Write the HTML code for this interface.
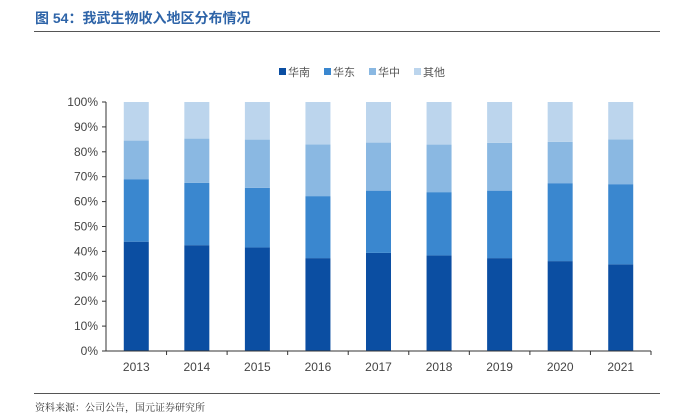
<!DOCTYPE html>
<html><head><meta charset="utf-8"><style>
body{margin:0;width:676px;height:411px;background:#fff;font-family:"Liberation Sans","Noto Sans CJK SC",sans-serif;overflow:hidden;position:relative}
.t{position:absolute;left:35px;top:8px;font-size:14px;font-weight:bold;color:#2e64a8}
.r{position:absolute;left:34px;width:626px;height:1px;background:#555}
.s{position:absolute;left:35px;top:399px;font-size:10px;color:#333;font-family:"Noto Serif CJK SC",serif}
</style></head><body>
<div class="t">图 54：我武生物收入地区分布情况</div>
<div class="r" style="top:31px"></div>
<div class="r" style="top:393px"></div>
<div class="s">资料来源：公司公告，国元证券研究所</div>
<svg id="c" width="676" height="411" style="position:absolute;left:0;top:0"></svg>
<script>
const years=["2013","2014","2015","2016","2017","2018","2019","2020","2021"];
const south=[43.9,42.5,41.6,37.3,39.4,38.4,37.3,36.1,34.8];
const east=[25.1,25.0,23.9,24.9,25.0,25.4,27.1,31.3,32.2];
const central=[15.5,17.8,19.4,20.8,19.3,19.1,19.2,16.6,18.0];
const other=[15.5,14.7,15.1,17.0,16.3,17.1,16.4,16.0,15.0];
const seriesNames=["华南","华东","华中","其他"];
const yTicks=[0,10,20,30,40,50,60,70,80,90,100];
const colors=["#0b4ea2","#3a87cf","#8ab8e2","#bcd5ed"];
const NS="http://www.w3.org/2000/svg",svg=document.getElementById('c');
const x0=106,x1=651,y0=351,y1=102,bw=25;
const cw=(x1-x0)/years.length;
const y=v=>y0-(v/100)*(y0-y1);
const xc=i=>x0+cw*(i+0.5);
function mk(t,a){const e=document.createElementNS(NS,t);for(const k in a)e.setAttribute(k,a[k]);svg.appendChild(e);return e;}
const series=[south,east,central,other];
years.forEach((yr,i)=>{let cum=0;series.forEach((s,j)=>{const r=mk('rect',{x:xc(i)-bw/2,y:y(cum+s[i]),width:bw,height:y(cum)-y(cum+s[i]),fill:colors[j]});


cum+=s[i];});
const t=mk('text',{x:xc(i),y:371,'text-anchor':'middle','font-size':12,fill:'#444'});t.textContent=yr;


const tk=mk('line',{x1:x0+cw*(i+1),x2:x0+cw*(i+1),y1:y0,y2:y0+4,stroke:'#333'});


});
yTicks.forEach(v=>{const l=mk('line',{x1:x0-4,x2:x0,y1:y(v),y2:y(v),stroke:'#333'});


const t=mk('text',{x:x0-8,y:y(v)+4,'text-anchor':'end','font-size':12,fill:'#444'});t.textContent=v+'%';

});
const ax=mk('line',{x1:x0,x2:x0,y1:y1,y2:y0,stroke:'#333'});


const bx=mk('line',{x1:x0,x2:x1,y1:y0,y2:y0,stroke:'#333'});


seriesNames.forEach((n,j)=>{const lx=279+j*45;
const r=mk('rect',{x:lx,y:68,width:7,height:7,fill:colors[j]});


const t=mk('text',{x:lx+9,y:76,'font-size':11,fill:'#555'});t.textContent=n;

});
</script>
</body></html>
